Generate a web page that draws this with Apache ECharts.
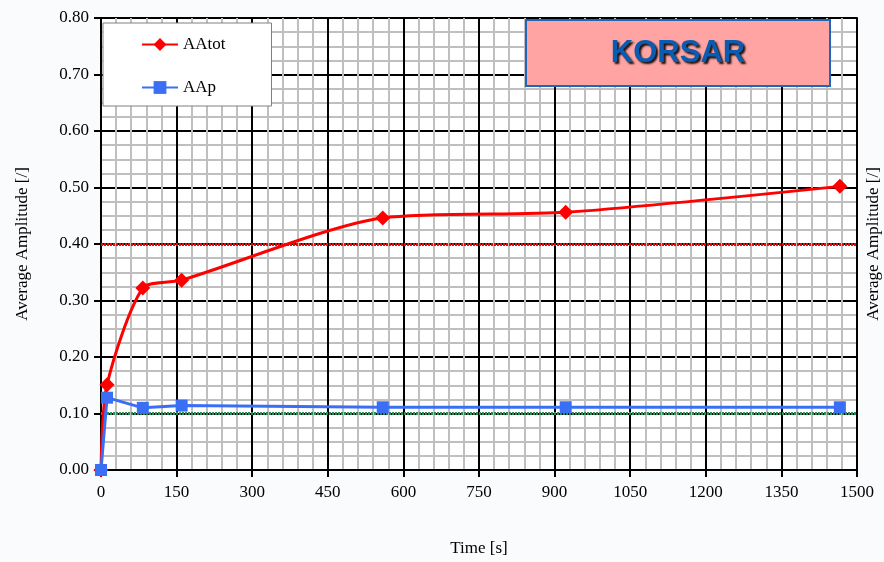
<!DOCTYPE html>
<html>
<head>
<meta charset="utf-8">
<script src="https://cdn.jsdelivr.net/npm/echarts@6/dist/echarts.min.js"></script>
<style>
    html, body { margin: 0; padding: 0; background: #f9fbfd; }
    #chart { width: 884px; height: 562px; }
</style>
</head>
<body>
<div id="chart"></div>
<script>
const timeValues = [0, 12, 83, 160, 559, 922, 1466];
const aaTotValues = [0, 0.151, 0.322, 0.336, 0.446, 0.456, 0.502];
const aaPValues = [0, 0.128, 0.110, 0.114, 0.111, 0.111, 0.111];
const refLevels = [0.40, 0.10];
const refColors = ['#ff0000', '#2e8b57'];
const seriesNames = ['AAtot', 'AAp'];

const serif = 'Liberation Serif, Times New Roman, serif';

function pairs(xs, ys) {
    return xs.map((x, i) => [x, ys[i]]);
}

const chart = echarts.init(document.getElementById('chart'));

const yAxisBase = {
    type: 'value',
    min: 0,
    max: 0.8,
    interval: 0.1,
    name: 'Average Amplitude [/]',
    nameLocation: 'middle',
    nameRotate: 90,
    nameTextStyle: { fontFamily: serif, fontSize: 17, color: '#000' },
    axisLine: { show: true, lineStyle: { color: '#000', width: 2 } }
};

const option = {
    backgroundColor: '#f9fbfd',
    animation: false,
    grid: {
        left: 101,
        right: 27,
        top: 18,
        bottom: 92,
        outerBoundsMode: 'none',
        show: true,
        backgroundColor: '#ffffff',
        borderWidth: 0
    },
    legend: {
        data: seriesNames,
        orient: 'vertical',
        left: 103,
        top: 23,
        backgroundColor: '#ffffff',
        borderColor: '#808080',
        borderWidth: 1,
        padding: [13, 46, 10, 38],
        itemGap: 26,
        itemWidth: 36,
        itemHeight: 16,
        textStyle: { fontFamily: serif, fontSize: 17, color: '#000' }
    },
    xAxis: {
        type: 'value',
        min: 0,
        max: 1500,
        interval: 150,
        name: 'Time [s]',
        nameLocation: 'middle',
        nameGap: 70,
        nameTextStyle: { fontFamily: serif, fontSize: 17, color: '#000' },
        axisLine: { lineStyle: { color: '#000', width: 2 } },
        axisTick: { show: true, length: 7, lineStyle: { color: '#000', width: 2 } },
        axisLabel: {
            fontFamily: serif, fontSize: 17, color: '#000', margin: 14,
            formatter: v => String(v)
        },
        splitLine: { show: true, lineStyle: { color: '#000', width: 2 } },
        minorTick: { show: false, splitNumber: 5 },
        minorSplitLine: { show: true, lineStyle: { color: '#bfbfbf', width: 2 } }
    },
    yAxis: [
        Object.assign({}, yAxisBase, {
            position: 'left',
            nameGap: 70,
            axisTick: { show: true, length: 7, inside: false, lineStyle: { color: '#000', width: 2 } },
            axisLabel: {
                fontFamily: serif, fontSize: 17, color: '#000', margin: 12,
                formatter: v => v.toFixed(2)
            },
            splitLine: { show: true, lineStyle: { color: '#000', width: 2 } },
            minorTick: { show: false, splitNumber: 4 },
            minorSplitLine: { show: true, lineStyle: { color: '#bfbfbf', width: 2 } }
        }),
        Object.assign({}, yAxisBase, {
            position: 'right',
            nameGap: 8,
            axisTick: { show: false },
            axisLabel: { show: false },
            splitLine: { show: false }
        })
    ],
    series: [
        {
            name: seriesNames[0],
            type: 'line',
            data: pairs(timeValues, aaTotValues),
            smooth: 0.25,
            symbol: 'diamond',
            symbolSize: 15,
            color: '#ff0000',
            lineStyle: { color: '#ff0000', width: 3 },
            itemStyle: { color: '#ff0000' },
            z: 5,
            markLine: {
                silent: true,
                symbol: 'none',
                label: { show: false },
                data: refLevels.map((v, i) => ({
                    yAxis: v,
                    lineStyle: { color: refColors[i], width: 3, type: [2, 1] }
                }))
            }
        },
        {
            name: seriesNames[1],
            type: 'line',
            data: pairs(timeValues, aaPValues),
            symbol: 'rect',
            symbolSize: 12,
            color: '#3a6ff5',
            lineStyle: { color: '#3a6ff5', width: 3 },
            itemStyle: { color: '#3a6ff5' },
            z: 6
        }
    ],
    graphic: [
        {
            type: 'rect',
            left: 525,
            top: 19,
            z: 100,
            shape: { x: 0, y: 0, width: 304, height: 66 },
            style: { fill: '#ffa3a3', stroke: '#1f66b8', lineWidth: 2 }
        },
        {
            type: 'text',
            x: 678,
            y: 53,
            z: 101,
            style: {
                text: 'KORSAR',
                fill: '#0a5cb0',
                font: 'bold 31px Liberation Sans, Arial, sans-serif',
                align: 'center',
                verticalAlign: 'middle',
                textShadowColor: 'rgba(0,0,0,0.9)',
                textShadowBlur: 2,
                textShadowOffsetX: 2,
                textShadowOffsetY: 2
            }
        }
    ]
};

chart.setOption(option);
</script>
</body>
</html>
